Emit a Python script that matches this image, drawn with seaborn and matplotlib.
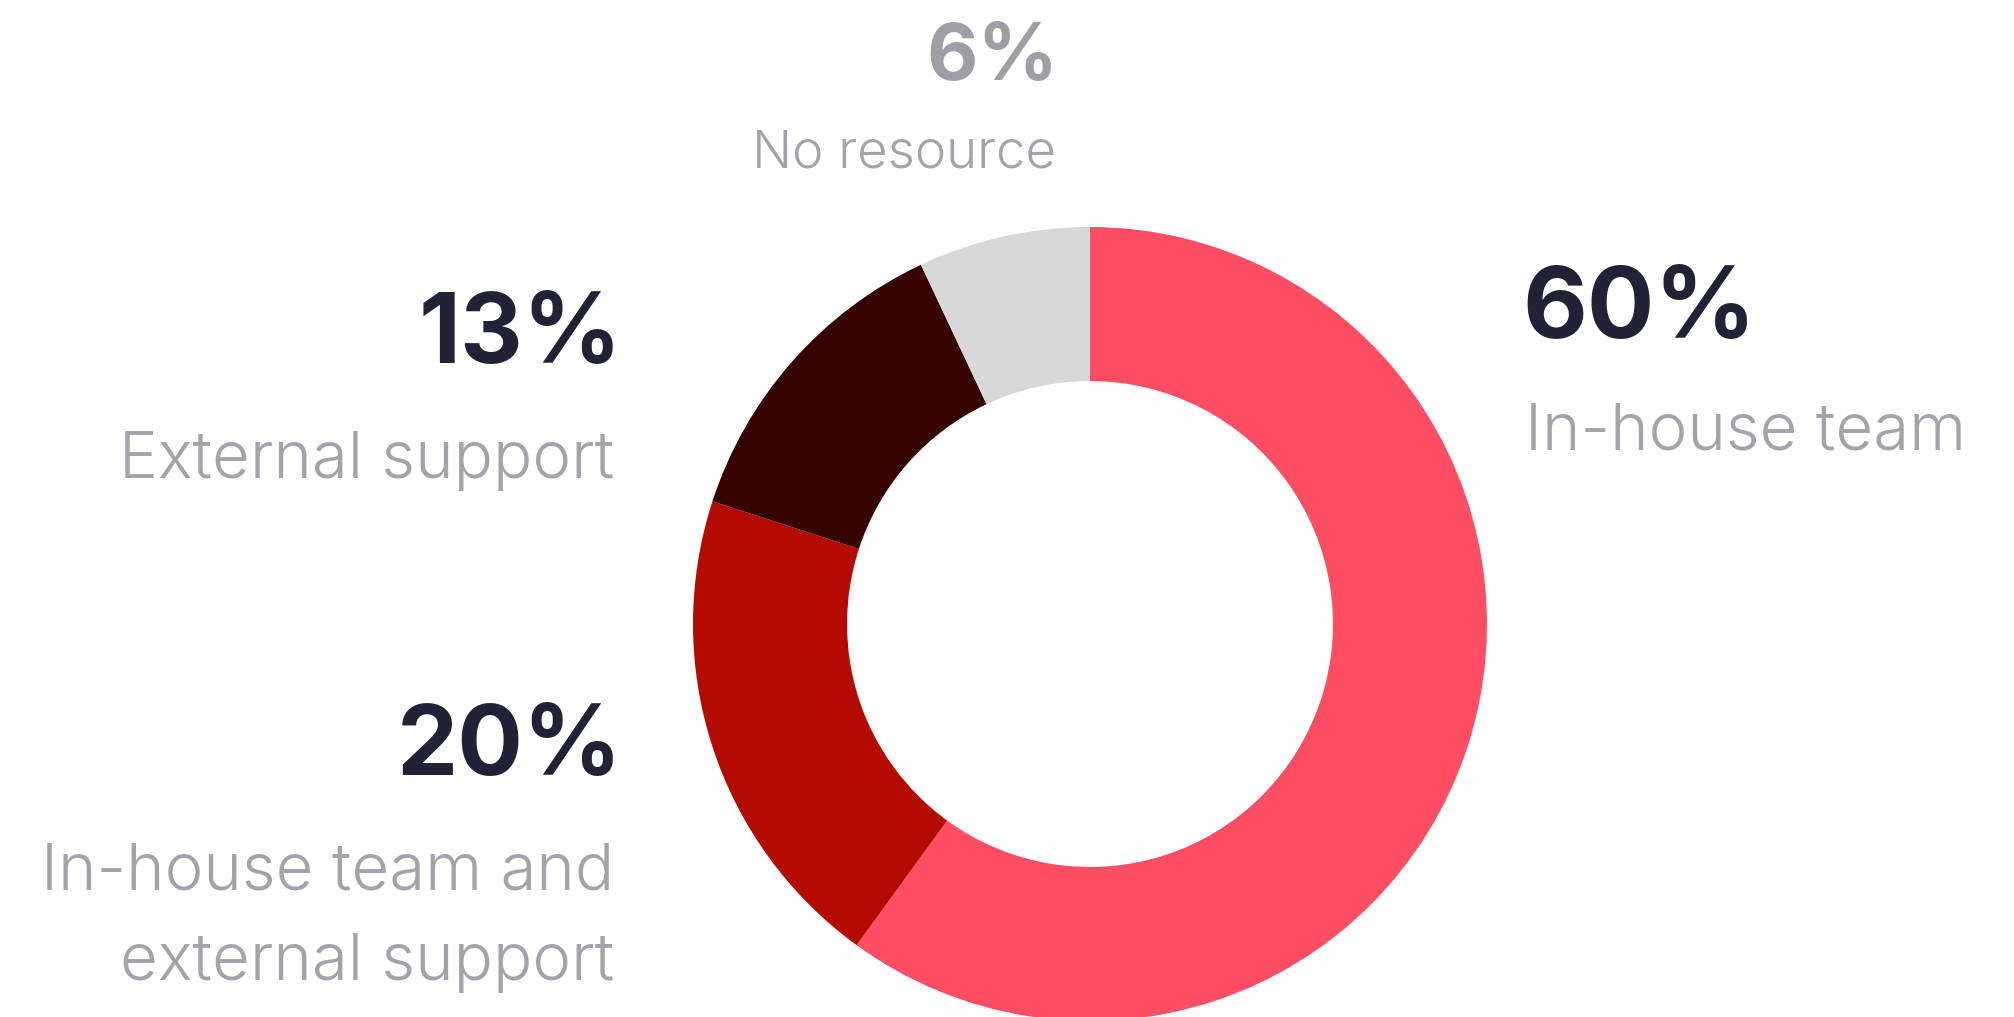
import matplotlib.pyplot as plt
import seaborn as sns

# Data
categories = ['In-house team', 'In-house team and\nexternal support', 'External support', 'No resource']
shares = [60, 20, 13, 6]            # printed labels
ring_sizes = [60, 20, 13, 7]        # arc sizes as measured on the ring
slice_colors = ['#FF4D64', '#B40B00', '#370300', '#D8D8D8']

sns.set_theme(style='white')
plt.rcParams['font.family'] = ['Inter', 'DejaVu Sans']

W, H = 2014, 1017
fig = plt.figure(figsize=(W / 100, H / 100), dpi=100)
fig.patch.set_facecolor('white')

# donut placed in pixel terms
cx, cy, r = 1090, 624, 397
ax = fig.add_axes([(cx - r) / W, (H - cy - r) / H, 2 * r / W, 2 * r / H])
ax.pie(ring_sizes, colors=slice_colors, startangle=90, counterclock=False,
       radius=1, wedgeprops=dict(width=0.388, linewidth=0))
ax.set_xlim(-1, 1)
ax.set_ylim(-1, 1)
ax.set_aspect('equal')
ax.axis('off')

num_color = '#222236'
lab_color = '#A3A3AB'

def px(x, y):
    return x / W, 1 - y / H

# Decorations: (x_num, x_lab, baseline_num, baseline_label, ha, num_size, lab_size, num_color)
layout = [
    (1522, 1525, 338, 450, 'left', 72, 47, num_color),
    (622, 614, 775, 890, 'right', 70, 47, num_color),
    (622, 614, 363, 478, 'right', 70, 47, num_color),
    (1058, 1056, 80, 167, 'right', 57, 38, '#9E9EA6'),
]

for cat, val, (xn, xl, yn, yl, ha, ns, ls, nc) in zip(categories, shares, layout):
    fig.text(*px(xn, yn), f'{val}%', ha=ha, va='baseline', fontsize=ns,
             fontweight=700, color=nc)
    lines = cat.split('\n')
    for i, line in enumerate(lines):
        fig.text(*px(xl, yl + i * 90), line, ha=ha, va='baseline', fontsize=ls,
                 fontweight=300, color=lab_color)

plt.savefig('out.png', dpi=100, facecolor='white')
